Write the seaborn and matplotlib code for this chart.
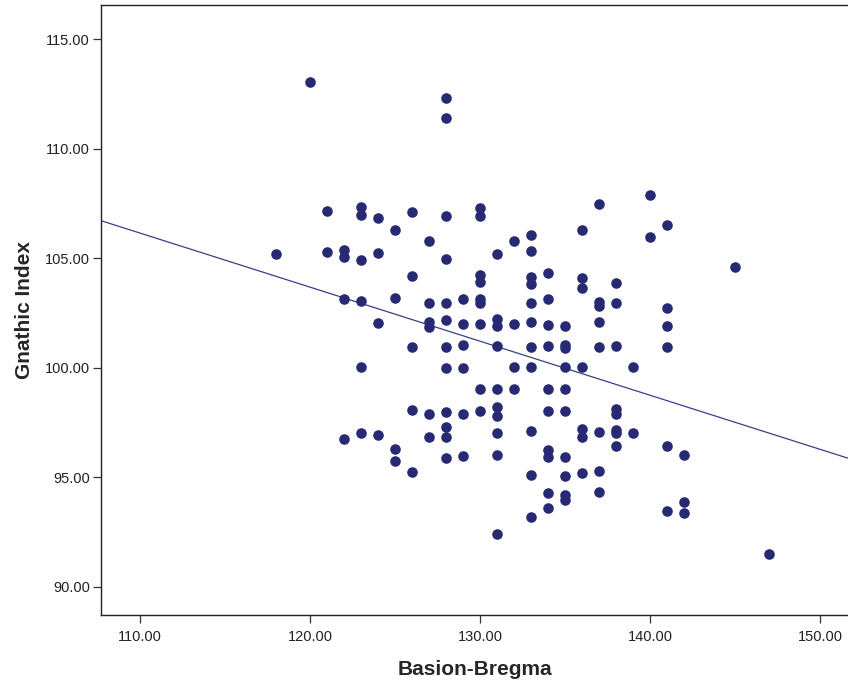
"""
Scatter of Gnathic Index against Basion-Bregma with a linear fit line
"""

import matplotlib
matplotlib.use("Agg")
import matplotlib.pyplot as plt
import seaborn as sns
import pandas as pd

# one line per Basion-Bregma value (x), gnathic index values
basion_bregma = (
    [118]
    + [120]
    + [121] * 2
    + [122] * 4
    + [123] * 6
    + [124] * 4
    + [125] * 4
    + [126] * 5
    + [127] * 6
    + [128] * 12
    + [129] * 6
    + [130] * 9
    + [131] * 10
    + [132] * 4
    + [133] * 11
    + [134] * 10
    + [135] * 10
    + [136] * 7
    + [137] * 8
    + [138] * 8
    + [139] * 2
    + [140] * 2
    + [141] * 6
    + [142] * 3
    + [145]
    + [147]
)

gnathic_index = [
    105.19,
    113.05,
    107.17, 105.28,
    105.38, 105.07, 103.12, 96.74,
    107.35, 106.97, 104.92, 103.05, 100.02, 97.01,
    106.82, 105.25, 102.03, 96.92,
    106.29, 103.18, 96.28, 95.72,
    107.09, 104.20, 100.96, 98.07, 95.22,
    105.77, 102.94, 102.10, 101.85, 97.88, 96.81,
    112.29, 111.38, 106.94, 104.96, 102.94, 102.15, 100.92, 100.00, 97.95, 97.30, 96.85, 95.87,
    103.12, 102.00, 101.04, 100.00, 97.89, 95.94,
    107.28, 106.93, 104.22, 103.90, 103.12, 102.95, 102.00, 99.00, 98.00,
    105.19, 102.20, 101.88, 101.00, 99.00, 98.20, 97.77, 97.00, 95.99, 92.42,
    105.80, 102.01, 100.02, 99.00,
    106.04, 105.30, 104.12, 103.82, 102.94, 102.06, 100.92, 100.02, 97.08, 95.08, 93.18,
    104.30, 103.12, 101.96, 100.99, 99.00, 98.00, 96.25, 95.92, 94.27, 93.57,
    101.91, 101.04, 100.89, 100.02, 99.00, 98.00, 95.92, 95.03, 94.20, 93.95,
    106.29, 104.08, 103.63, 100.02, 97.20, 96.85, 95.19,
    107.45, 103.00, 102.82, 102.06, 100.96, 97.04, 95.26, 94.32,
    103.88, 102.97, 101.00, 98.10, 97.90, 97.16, 97.00, 96.43,
    100.02, 97.02,
    107.88, 105.94,
    106.52, 102.70, 101.92, 100.96, 96.43, 93.44,
    96.02, 93.86, 93.36,
    104.61,
    91.48,
]

x_ticks = [110, 120, 130, 140, 150]
y_ticks = [90, 95, 100, 105, 110, 115]

POINT_COLOR = "#272a72"
LINE_COLOR = "#3b3f86"

sns.set_style("white")
plt.rcParams["font.family"] = ["Liberation Sans", "DejaVu Sans"]

df = pd.DataFrame({"Basion-Bregma": basion_bregma, "Gnathic Index": gnathic_index})

fig = plt.figure(figsize=(8.48, 6.86), dpi=100)
ax = fig.add_axes([0.119, 0.1035, 0.881, 0.889])
ax.set_xlim(107.7, 151.65)
ax.set_ylim(88.7, 116.55)

sns.scatterplot(
    data=df, x="Basion-Bregma", y="Gnathic Index",
    color=POINT_COLOR, s=58, linewidth=0, ax=ax, zorder=3
)

# fit line across the full x range
sns.regplot(
    data=df, x="Basion-Bregma", y="Gnathic Index", scatter=False,
    ci=None, truncate=False, color=LINE_COLOR,
    line_kws={"linewidth": 0.9}, ax=ax
)

ax.set_xlim(107.7, 151.65)
ax.set_ylim(88.7, 116.55)
ax.set_xticks(x_ticks)
ax.set_yticks(y_ticks)
ax.set_xticklabels([f"{t:.2f}" for t in x_ticks])
ax.set_yticklabels([f"{t:.2f}" for t in y_ticks])

ax.tick_params(axis="both", which="major", bottom=True, left=True,
               direction="out", length=5, width=0.9,
               color="#333333", labelsize=10.5, labelcolor="#222222", pad=2)
ax.tick_params(axis="y", length=6)
ax.tick_params(axis="x", length=6, pad=5)

for side in ["left", "bottom", "top"]:
    ax.spines[side].set_color("#222222")
    ax.spines[side].set_linewidth(1.0)
ax.spines["right"].set_visible(False)

ax.set_xlabel("Basion-Bregma", fontsize=15, fontweight="bold", labelpad=11)
ax.set_ylabel("Gnathic Index", fontsize=15, fontweight="bold", labelpad=8)

fig.savefig("out.png", dpi=100)
plt.close(fig)
